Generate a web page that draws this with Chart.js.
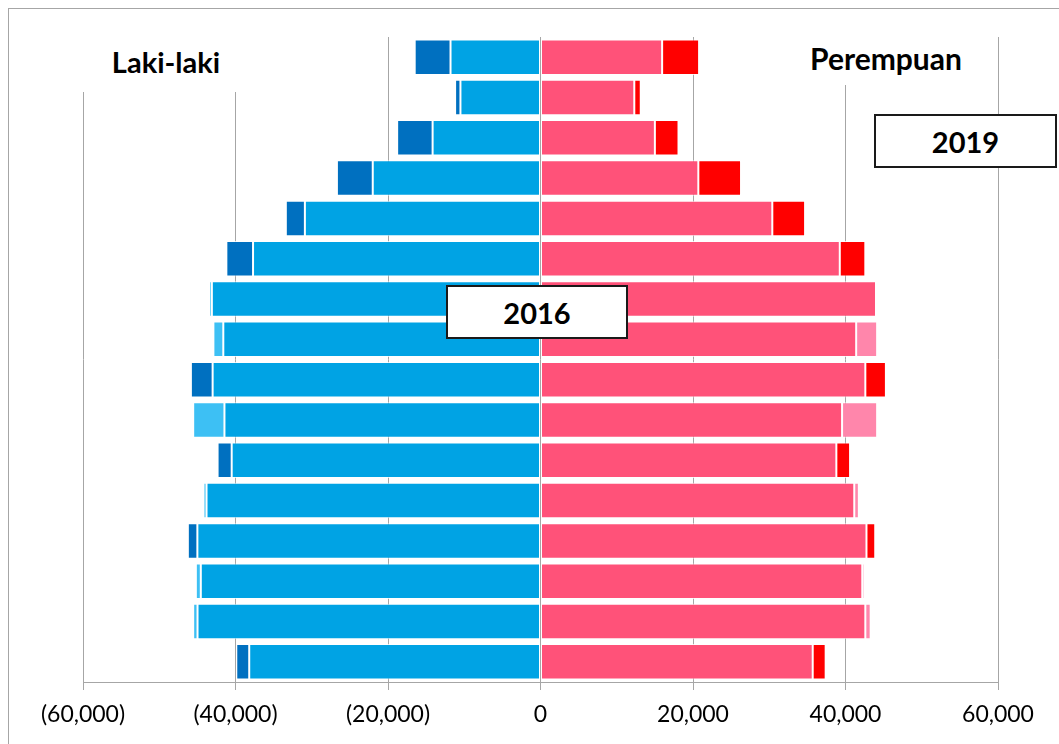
<!DOCTYPE html>
<html>
<head>
<meta charset="utf-8">
<script src="https://cdn.jsdelivr.net/npm/chart.js@4.4.1/dist/chart.umd.min.js"></script>
<style>
  html, body { margin: 0; padding: 0; background: #fff; overflow: hidden; }
  #wrap { position: relative; width: 1059px; height: 744px; }
  #frame { position: absolute; left: 8px; top: 8px; width: 1100px; height: 800px; border: 1px solid #A6A6A6; box-sizing: border-box; }
  canvas { position: absolute; left: 0; top: 0; }
  .lbl { position: absolute; background: #fff; font-family: Lato, "Open Sans", sans-serif; font-weight: bold; color: #000; display: flex; align-items: center; justify-content: center; }
  .box { position: absolute; background: #fff; border: 2px solid #1a1a1a; box-sizing: border-box; font-family: Lato, "Open Sans", sans-serif; font-weight: bold; color: #000; display: flex; align-items: center; justify-content: center; }
</style>
</head>
<body>
<div id="wrap">
  <div id="frame"></div>
  <canvas id="c" width="1059" height="744"></canvas>
  <div class="lbl" style="left:60px; top:30px; width:212px; height:62px; font-size:29px;">Laki-laki</div>
  <div class="lbl" style="left:775px; top:30px; width:222px; height:55px; font-size:30px;">Perempuan</div>
  <div class="box" style="left:446px; top:285px; width:182px; height:54px; font-size:29px;">2016</div>
  <div class="box" style="left:874px; top:114px; width:183px; height:54px; font-size:29px;">2019</div>
</div>
<script>
// Age groups, bottom to top
const ageGroups = ['0-4','5-9','10-14','15-19','20-24','25-29','30-34','35-39','40-44','45-49','50-54','55-59','60-64','65-69','70-74','75+'];
const male2016   = [38200, 45550, 45200, 45000, 44200, 40500, 45550, 43000, 42900, 43450, 37700, 30900, 22000, 14150, 10500, 11800];
const male2019   = [39900, 44980, 44550, 46250, 43800, 42350, 41450, 45850, 41600, 43100, 41200, 33400, 26700, 18800, 11200, 16500];
const female2016 = [35700, 43300, 42500, 42750, 41750, 38800, 44150, 42600, 44150, 44250, 39250, 30400, 20700, 15000, 12300, 15950];
const female2019 = [37400, 42600, 42200, 43900, 41150, 40600, 39550, 45300, 41400, 44000, 42600, 34700, 26300, 18100, 13150, 20800];
const xTicks = [-60000, -40000, -20000, 0, 20000, 40000, 60000];

// Derived stacked series: common part, growth (2019 > 2016), decline (2016 > 2019)
const mBase = male2016.map((v, i) => -Math.min(v, male2019[i]));
const mUp   = male2016.map((v, i) => -Math.max(0, male2019[i] - v));
const mDown = male2016.map((v, i) => -Math.max(0, v - male2019[i]));
const fBase = female2016.map((v, i) => Math.min(v, female2019[i]));
const fUp   = female2016.map((v, i) => Math.max(0, female2019[i] - v));
const fDown = female2016.map((v, i) => Math.max(0, v - female2019[i]));

const bw = 1, bc = 'rgba(255,255,255,0.75)';
function ds(label, data, color) {
  return { label, data, backgroundColor: color, borderColor: bc, borderWidth: bw, borderSkipped: false, stack: 's', barPercentage: 0.88, categoryPercentage: 1.0 };
}

const fmt = v => Math.abs(v).toLocaleString('en-US');

new Chart(document.getElementById('c'), {
  type: 'bar',
  data: {
    labels: ageGroups,
    datasets: [
      ds('Laki-laki', mBase, '#00A3E4'),
      ds('Laki-laki 2019 > 2016', mUp, '#0070C0'),
      ds('Laki-laki 2016 > 2019', mDown, '#3DC0F4'),
      ds('Perempuan', fBase, '#FF5279'),
      ds('Perempuan 2019 > 2016', fUp, '#FF0000'),
      ds('Perempuan 2016 > 2019', fDown, '#FF86AB')
    ]
  },
  options: {
    indexAxis: 'y',
    responsive: false,
    animation: false,
    layout: { padding: { left: 83, right: 61, top: 37, bottom: 0 } },
    plugins: { legend: { display: false }, tooltip: { enabled: false } },
    scales: {
      x: {
        stacked: true,
        min: -60000, max: 60000,
        afterBuildTicks: s => { s.ticks = xTicks.map(v => ({ value: v })); },
        afterFit: s => { s.height = 62; },
        grid: { color: '#A6A6A6', lineWidth: 1, drawTicks: true, tickLength: 8, tickColor: '#A6A6A6' },
        border: { display: true, color: '#A6A6A6', width: 1 },
        ticks: {
          padding: 11,
          color: '#000',
          font: { family: 'Lato, "Open Sans", sans-serif', size: 23 },
          maxRotation: 0,
          callback: v => v < 0 ? '(' + fmt(v) + ')' : fmt(v)
        }
      },
      y: {
        stacked: true,
        reverse: true,
        display: false,
        grid: { display: false }
      }
    }
  }
});
</script>
</body>
</html>
